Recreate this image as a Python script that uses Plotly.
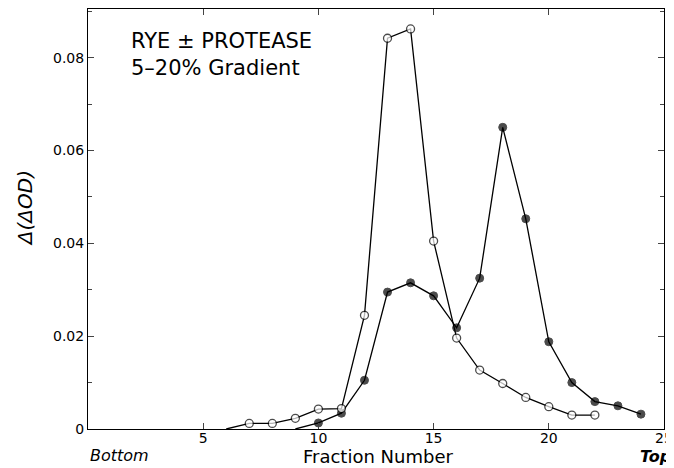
import plotly.graph_objects as go

# open circles (minus protease) and filled circles (plus protease)
open_x = [6, 7, 8, 9, 10, 11, 12, 13, 14, 15, 16, 17, 18, 19, 20, 21, 22]
open_y = [0.0, 0.0012, 0.0012, 0.0023, 0.0043, 0.0044, 0.0245, 0.0842, 0.0862,
          0.0405, 0.0196, 0.0127, 0.0098, 0.0068, 0.0048, 0.003, 0.003]
open_show = [False] + [True] * 16

filled_x = [9, 10, 11, 12, 13, 14, 15, 16, 17, 18, 19, 20, 21, 22, 23, 24]
filled_y = [0.0, 0.0013, 0.0034, 0.0105, 0.0295, 0.0315, 0.0287, 0.0218, 0.0325,
            0.065, 0.0453, 0.0188, 0.0100, 0.0059, 0.005, 0.0032]
filled_show = [False] + [True] * 15

y_ticks = [0, 0.02, 0.04, 0.06, 0.08]
y_labels = ["0", "0.02", "0.04", "0.06", "0.08"]
x_ticks = [5, 10, 15, 20, 25]

FONT = "DejaVu Sans"

fig = go.Figure()
fig.add_trace(go.Scatter(
    x=filled_x, y=filled_y, mode="lines+markers",
    line=dict(color="black", width=1.3),
    marker=dict(color="black", size=[8 if s else 0 for s in filled_show],
                line=dict(color="black", width=1)),
    showlegend=False,
))
fig.add_trace(go.Scatter(
    x=open_x, y=open_y, mode="lines+markers",
    line=dict(color="black", width=1.3),
    marker=dict(color="white", size=[8 if s else 0 for s in open_show],
                line=dict(color="black", width=1.3)),
    showlegend=False,
))

# page body has an 8px margin, so the figure is a bit smaller than the window
fig.update_layout(
    width=666, height=460,
    margin=dict(l=80, r=10, t=1, b=39),
    paper_bgcolor="white", plot_bgcolor="white",
    font=dict(family=FONT, color="black", size=13),
    xaxis=dict(range=[0, 25], tickvals=x_ticks, ticks="inside", ticklen=6,
               showline=True, linecolor="black", linewidth=1, mirror="ticks",
               showgrid=False, zeroline=False, tickfont=dict(size=14),
               ticklabelstandoff=-4),
    yaxis=dict(range=[0, 0.0905], tickvals=y_ticks, ticktext=y_labels,
               ticks="inside", ticklen=6, showline=True, linecolor="black",
               linewidth=1, mirror="ticks", showgrid=False, zeroline=False,
               tickfont=dict(size=14),
               minor=dict(dtick=0.01, ticks="inside", ticklen=4, showgrid=False)),
    annotations=[
        dict(text="RYE ± PROTEASE<br>5–20% Gradient", xref="paper", yref="paper",
             x=0.072, y=0.958, xanchor="left", yanchor="top", showarrow=False,
             align="left", font=dict(size=21, family=FONT)),
        dict(text="<i>Δ(ΔOD)</i>", xref="paper", yref="paper", x=-0.11, y=0.525,
             xanchor="center", yanchor="middle",
             textangle=-90, showarrow=False, font=dict(size=20, family=FONT)),
        dict(text="<i>Bottom</i>", xref="paper", yref="paper", x=0.0, y=-0.035,
             xanchor="left", yanchor="top", showarrow=False,
             font=dict(size=16, family=FONT)),
        dict(text="Fraction Number", xref="paper", yref="paper", x=0.503, y=-0.035,
             xanchor="center", yanchor="top", showarrow=False,
             font=dict(size=18, family=FONT)),
        dict(text="<i><b>Top</b></i>", xref="paper", yref="paper", x=1.015, y=-0.038,
             xanchor="right", yanchor="top", showarrow=False,
             font=dict(size=16, family=FONT)),
    ],
)

fig.write_html("out.html")
